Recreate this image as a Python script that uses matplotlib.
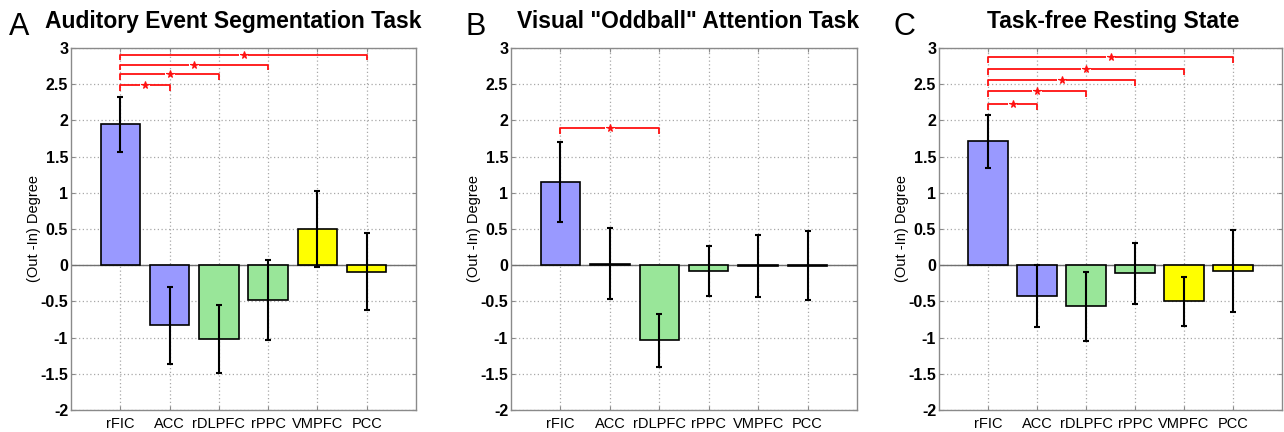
"""Out-minus-in degree of salience, executive and default-mode nodes across three conditions."""

import matplotlib.pyplot as plt


REGIONS = ["rFIC", "ACC", "rDLPFC", "rPPC", "VMPFC", "PCC"]

AUDITORY_MEAN = [1.95, -0.83, -1.02, -0.48, 0.50, -0.09]
AUDITORY_ERR = [0.38, 0.53, 0.47, 0.55, 0.53, 0.53]
AUDITORY_SIG_TARGETS = [2, 3, 4, 6]
AUDITORY_SIG_LEVELS = [2.49, 2.64, 2.77, 2.91]

ODDBALL_MEAN = [1.15, 0.02, -1.04, -0.08, -0.01, -0.005]
ODDBALL_ERR = [0.55, 0.49, 0.37, 0.35, 0.43, 0.48]
ODDBALL_SIG_TARGETS = [3]
ODDBALL_SIG_LEVELS = [1.89]

RESTING_MEAN = [1.71, -0.43, -0.57, -0.11, -0.50, -0.08]
RESTING_ERR = [0.37, 0.43, 0.48, 0.42, 0.34, 0.57]
RESTING_SIG_TARGETS = [2, 3, 4, 5, 6]
RESTING_SIG_LEVELS = [2.23, 2.40, 2.56, 2.71, 2.875]

Y_TICKS = [-2, -1.5, -1, -0.5, 0, 0.5, 1, 1.5, 2, 2.5, 3]
Y_TICK_LABELS = ["-2", "-1.5", "-1", "-0.5", "0", "0.5", "1", "1.5", "2", "2.5", "3"]

BLUE = "#9999FF"
GREEN = "#99E699"
YELLOW = "#FFFF00"
BAR_COLORS = [BLUE, BLUE, GREEN, GREEN, YELLOW, YELLOW]
SIG_RED = "#FF1010"
FRAME = "#8A8A8A"
GRID = "#A8A8A8"

plt.rcParams["font.family"] = ["Liberation Sans", "DejaVu Sans"]

W, H = 1284, 432


def px_axes(left, right, top=48, bottom=410):
    """Convert pixel box to figure fraction rect."""
    return [left / W, 1 - bottom / H, (right - left) / W, (bottom - top) / H]


def draw_brackets(axis, targets, levels, drop=0.08, gap=0.1):
    for target, level in zip(targets, levels):
        mid = (1 + target) / 2
        axis.plot([1, 1, mid - gap], [level - drop, level, level],
                  color=SIG_RED, linewidth=1.3, solid_capstyle="butt", zorder=4)
        axis.plot([mid + gap, target, target], [level, level, level - drop],
                  color=SIG_RED, linewidth=1.3, solid_capstyle="butt", zorder=4)
        axis.plot([mid], [level], marker="*", color=SIG_RED, markersize=5.5,
                  markeredgewidth=0.8, zorder=5)


def draw_panel(figure, rect, means, errs, sig_targets, sig_levels):
    axis = figure.add_axes(rect)
    positions = list(range(1, len(REGIONS) + 1))
    axis.axhline(0, color="#707070", linewidth=1.0, zorder=1)
    axis.bar(positions, means, width=0.8, color=BAR_COLORS, edgecolor="black",
             linewidth=1.2, zorder=2)
    axis.errorbar(positions, means, yerr=errs, fmt="none", ecolor="black",
                  elinewidth=1.5, capsize=2.2, capthick=1.5, zorder=3)
    draw_brackets(axis, sig_targets, sig_levels)

    axis.set_xlim(0, 7)
    axis.set_ylim(-2, 3)
    axis.set_xticks(positions, REGIONS)
    axis.set_yticks(Y_TICKS, Y_TICK_LABELS)
    axis.grid(True, color=GRID, linestyle=(0, (1, 2)), linewidth=0.9)
    axis.set_axisbelow(True)
    axis.tick_params(direction="in", length=3, color=FRAME, top=True, right=True)
    axis.tick_params(axis="x", labelsize=10.5, pad=5)
    axis.tick_params(axis="y", labelsize=11.5, pad=2)
    for label in axis.get_yticklabels():
        label.set_fontweight("bold")
    axis.set_ylabel("(Out -In) Degree", fontsize=10.5)
    axis.yaxis.set_label_coords(-30 / (rect[2] * W), 0.5)
    for spine in axis.spines.values():
        spine.set_color(FRAME)
        spine.set_linewidth(1.0)
    return axis


figure = plt.figure(figsize=(W / 100, H / 100), dpi=100)
figure.patch.set_facecolor("white")

draw_panel(figure, px_axes(71, 416), AUDITORY_MEAN, AUDITORY_ERR,
           AUDITORY_SIG_TARGETS, AUDITORY_SIG_LEVELS)
draw_panel(figure, px_axes(511, 857), ODDBALL_MEAN, ODDBALL_ERR,
           ODDBALL_SIG_TARGETS, ODDBALL_SIG_LEVELS)
draw_panel(figure, px_axes(939, 1282), RESTING_MEAN, RESTING_ERR,
           RESTING_SIG_TARGETS, RESTING_SIG_LEVELS)

titles = [
    ("A", 9, "Auditory Event Segmentation Task", 233),
    ("B", 465, 'Visual "Oddball" Attention Task', 688),
    ("C", 893, "Task-free Resting State", 1113),
]
for letter, letter_x, title, title_x in titles:
    figure.text(letter_x / W, 1 - 35 / H, letter, fontsize=22, ha="left",
                va="baseline", color="black")
    figure.text(title_x / W, 1 - 28 / H, title, fontsize=16.5, fontweight="bold",
                ha="center", va="baseline", color="black")

figure.savefig("out.png", dpi=100, facecolor="white")
